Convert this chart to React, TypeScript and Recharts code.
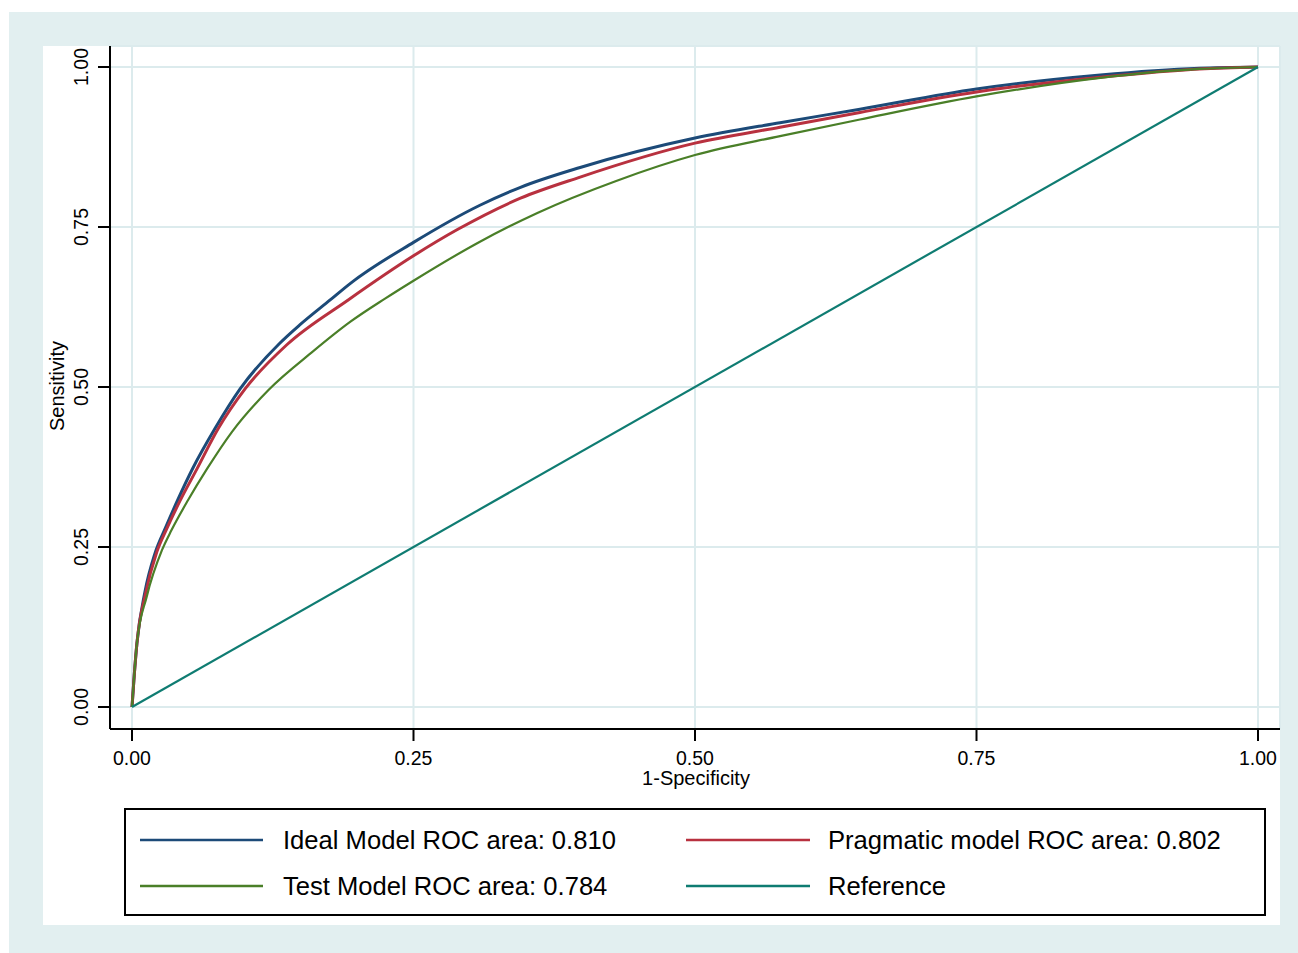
import React from 'react';
import { LineChart, Line, XAxis, YAxis, CartesianGrid } from 'recharts';

const tickValues = [0, 0.25, 0.5, 0.75, 1];

const idealX = [0, 0.002, 0.0044, 0.0115, 0.0204, 0.03, 0.041, 0.054, 0.0737, 0.096, 0.131, 0.149, 0.176, 0.194, 0.25, 0.309, 0.345, 0.398, 0.5, 0.5755, 0.6465, 0.75, 0.86, 0.948, 1];
const idealY = [0, 0.05, 0.1, 0.18, 0.24, 0.281, 0.325, 0.373, 0.435, 0.497, 0.568, 0.597, 0.636, 0.662, 0.726, 0.784, 0.812, 0.843, 0.889, 0.913, 0.934, 0.9656, 0.9875, 0.998, 1];

const pragX = [0, 0.002, 0.0044, 0.012, 0.022, 0.031, 0.0426, 0.0577, 0.0766, 0.1004, 0.1375, 0.192, 0.25, 0.289, 0.345, 0.398, 0.5, 0.5755, 0.6465, 0.75, 0.86, 0.948, 1];
const pragY = [0, 0.05, 0.1, 0.177, 0.242, 0.279, 0.322, 0.372, 0.435, 0.497, 0.566, 0.636, 0.705, 0.746, 0.795, 0.828, 0.881, 0.906, 0.929, 0.961, 0.984, 0.997, 1];

const testX = [0, 0.002, 0.0044, 0.013, 0.0266, 0.035, 0.0497, 0.0666, 0.0888, 0.121, 0.161, 0.194, 0.2247, 0.25, 0.309, 0.36, 0.43, 0.5, 0.5755, 0.6465, 0.75, 0.86, 0.948, 1];
const testY = [0, 0.05, 0.1, 0.172, 0.245, 0.276, 0.323, 0.372, 0.43, 0.495, 0.556, 0.602, 0.638, 0.666, 0.727, 0.772, 0.822, 0.8625, 0.892, 0.918, 0.954, 0.983, 0.997, 1];

const refX = [0, 1];
const refY = [0, 1];

const legendLabels = [
  'Ideal Model ROC area: 0.810',
  'Pragmatic model ROC area: 0.802',
  'Test Model ROC area: 0.784',
  'Reference',
];

const COLORS = ['#1c4a78', '#b8313f', '#4a7f28', '#0f7c72'];
const FONT = '"Liberation Sans", Arial, Helvetica, sans-serif';

const toPts = (xs: number[], ys: number[]) => xs.map((x, i) => ({ x, y: ys[i] }));
const idealData = toPts(idealX, idealY);
const pragData = toPts(pragX, pragY);
const testData = toPts(testX, testY);
const refData = toPts(refX, refY);

const fmt = (v: number) => v.toFixed(2);

const YTick = (props: any) => {
  const { y, payload } = props;
  return (
    <text
      x={88}
      y={y}
      transform={`rotate(-90 88 ${y})`}
      textAnchor="middle"
      fontSize={19.5}
      fontFamily={FONT}
      fill="#000"
    >
      {fmt(payload.value)}
    </text>
  );
};

export default function App() {
  const legendRows = [
    [{ c: COLORS[0], t: legendLabels[0] }, { c: COLORS[1], t: legendLabels[1] }],
    [{ c: COLORS[2], t: legendLabels[2] }, { c: COLORS[3], t: legendLabels[3] }],
  ];
  return (
    <div style={{ position: 'absolute', left: 0, top: 0, width: 1298, height: 953, background: '#fff' }}>
      <div style={{ position: 'absolute', left: 9, top: 12, width: 1289, height: 941, background: '#e2eff0' }} />
      <div style={{ position: 'absolute', left: 43, top: 46, width: 1237, height: 879, background: '#fff' }} />
      <div style={{ position: 'absolute', left: 0, top: 0 }}>
        <LineChart width={1298} height={953} margin={{ top: 46, right: 18, bottom: 164, left: 0 }}>
          <CartesianGrid stroke="#dcebed" strokeWidth={2} />
          <XAxis
            type="number"
            dataKey="x"
            domain={[-0.01954, 1.01954]}
            ticks={tickValues}
            allowDataOverflow
            height={60}
            tickSize={12}
            tickMargin={10}
            tickFormatter={fmt}
            axisLine={{ stroke: '#000', strokeWidth: 2 }}
            tickLine={{ stroke: '#000', strokeWidth: 2 }}
            tick={{ fontSize: 19.5, fill: '#000', fontFamily: FONT }}
          />
          <YAxis
            type="number"
            dataKey="y"
            domain={[-0.0344, 1.0328]}
            ticks={tickValues}
            allowDataOverflow
            width={110}
            tickSize={12}
            axisLine={{ stroke: '#000', strokeWidth: 2 }}
            tickLine={{ stroke: '#000', strokeWidth: 2 }}
            tick={<YTick />}
          />
          <Line data={idealData} dataKey="y" type="monotone" stroke={COLORS[0]} strokeWidth={3} dot={false} activeDot={false} isAnimationActive={false} />
          <Line data={pragData} dataKey="y" type="monotone" stroke={COLORS[1]} strokeWidth={3} dot={false} activeDot={false} isAnimationActive={false} />
          <Line data={testData} dataKey="y" type="monotone" stroke={COLORS[2]} strokeWidth={2.2} dot={false} activeDot={false} isAnimationActive={false} />
          <Line data={refData} dataKey="y" type="linear" stroke={COLORS[3]} strokeWidth={2.2} dot={false} activeDot={false} isAnimationActive={false} />
        </LineChart>
      </div>
      <svg width={1298} height={953} style={{ position: 'absolute', left: 0, top: 0, pointerEvents: 'none' }}>
        <text x={696} y={785} textAnchor="middle" fontSize={20} fontFamily={FONT} fill="#000">1-Specificity</text>
        <text x={64} y={386} transform="rotate(-90 64 386)" textAnchor="middle" fontSize={20} fontFamily={FONT} fill="#000">Sensitivity</text>
        <rect x={125} y={809} width={1140} height={106} fill="#fff" stroke="#000" strokeWidth={2} />
        {legendRows.map((row, r) => {
          const cy = 840 + r * 46;
          return (
            <g key={r}>
              <line x1={140} x2={263} y1={cy} y2={cy} stroke={row[0].c} strokeWidth={2.5} />
              <text x={283} y={cy + 9} fontSize={25.6} fontFamily={FONT} fill="#000">{row[0].t}</text>
              <line x1={686} x2={810} y1={cy} y2={cy} stroke={row[1].c} strokeWidth={2.5} />
              <text x={828} y={cy + 9} fontSize={25.6} fontFamily={FONT} fill="#000">{row[1].t}</text>
            </g>
          );
        })}
      </svg>
    </div>
  );
}
